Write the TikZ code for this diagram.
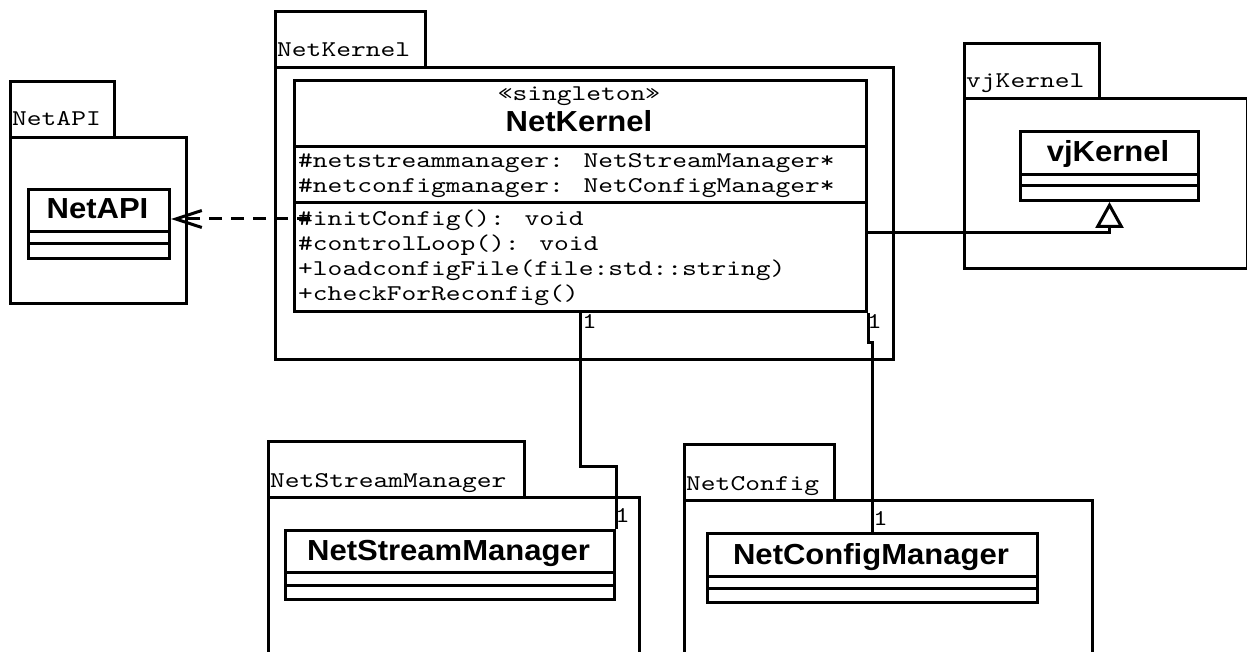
\documentclass[tikz,border=0pt]{standalone}
\usepackage{fontspec}
\newfontfamily\umlsans[FakeStretch=1.07]{Liberation Sans}
\newfontfamily\umlmono[FakeStretch=1.25]{lmmono10-regular.otf}
\usetikzlibrary{arrows.meta}

\tikzset{
  frame/.style={draw, line width=3pt, inner sep=0pt, anchor=north west},
  rule/.style={line width=3pt},
  mono/.style={font=\umlmono\fontsize{22.5}{25}\selectfont, inner sep=0pt, anchor=base west},
  title/.style={font=\umlsans\bfseries\fontsize{29}{30}\selectfont, inner sep=0pt, anchor=base},
  depend/.style={line width=3pt, dash pattern=on 13pt off 9pt,
    -{Straight Barb[length=26pt, width=17pt, line width=3pt]}},
  realize/.style={line width=3pt,
    -{Triangle[open, length=26pt, width=28pt, line width=3pt, fill=white]}},
  assoc/.style={line width=3pt},
}

\begin{document}
\begin{tikzpicture}[x=1pt, y=-1pt]
\useasboundingbox (0,0) rectangle (1247,652);
\clip (0,0) rectangle (1247,652);

% ---- packages (tab + body) ----
\node[frame, minimum width=104pt, minimum height=56pt] (apitab) at (9,80) {};
\node[frame, minimum width=176pt, minimum height=166pt] (apibody) at (9,136) {};
\node[mono] (apilbl) at (12,126) {NetAPI};

\node[frame, minimum width=150pt, minimum height=56pt] (nktab) at (274,10) {};
\node[frame, minimum width=618pt, minimum height=292pt] (nkbody) at (274,66) {};
\node[mono] (nklbl) at (277,57) {NetKernel};

\node[frame, minimum width=135pt, minimum height=55pt] (vjtab) at (963,42) {};
\node[frame, minimum width=283pt, minimum height=170pt] (vjbody) at (963,97) {};
\node[mono] (vjlbl) at (966,88) {vjKernel};

\node[frame, minimum width=256pt, minimum height=56pt] (nsmtab) at (267,440) {};
\node[frame, minimum width=371pt, minimum height=250pt] (nsmbody) at (267,496) {};
\node[mono] (nsmlbl) at (270,487) {NetStreamManager};

\node[frame, minimum width=150pt, minimum height=56pt] (nctab) at (683,443) {};
\node[frame, minimum width=408pt, minimum height=250pt] (ncbody) at (683,499) {};
\node[mono] (nclbl) at (686,490) {NetConfig};

% ---- classes ----
% NetAPI
\node[frame, fill=white, minimum width=141pt, minimum height=69pt] (api) at (27,188) {};
\draw[rule] (api.west |- 0,232) -- (api.east |- 0,232);
\draw[rule] (api.west |- 0,244) -- (api.east |- 0,244);
\node[title] (apiname) at (97.5,219) {NetAPI};

% vjKernel
\node[frame, fill=white, minimum width=178pt, minimum height=69pt] (vjc) at (1019,130) {};
\draw[rule] (vjc.west |- 0,175) -- (vjc.east |- 0,175);
\draw[rule] (vjc.west |- 0,186) -- (vjc.east |- 0,186);
\node[title] (vjname) at (1108,162) {vjKernel};

% NetStreamManager
\node[frame, fill=white, minimum width=329pt, minimum height=69pt] (nsm) at (284,529) {};
\draw[rule] (nsm.west |- 0,572) -- (nsm.east |- 0,572);
\draw[rule] (nsm.west |- 0,585) -- (nsm.east |- 0,585);
\node[title] (nsmname) at (448.5,560) {NetStreamManager};

% NetConfigManager
\node[frame, fill=white, minimum width=330pt, minimum height=69pt] (ncm) at (706,532) {};
\draw[rule] (ncm.west |- 0,576) -- (ncm.east |- 0,576);
\draw[rule] (ncm.west |- 0,588) -- (ncm.east |- 0,588);
\node[title] (ncmname) at (871,564) {NetConfigManager};

% NetKernel
\node[frame, fill=white, minimum width=572pt, minimum height=231pt] (nk) at (293,79) {};
\draw[rule] (nk.west |- 0,147) -- (nk.east |- 0,147);
\draw[rule] (nk.west |- 0,203) -- (nk.east |- 0,203);
\node[mono, anchor=base] (nkst) at (579,101) {«singleton»};
\node[title] (nkname) at (579,132) {NetKernel};
\node[mono] (a1) at (298,168) {\#netstreammanager: NetStreamManager*};
\node[mono] (a2) at (298,193) {\#netconfigmanager: NetConfigManager*};
\node[mono] (o1) at (298,226) {\#initConfig(): void};
\node[mono] (o2) at (298,251) {\#controlLoop(): void};
\node[mono] (o3) at (298,276) {+loadconfigFile(file:std::string)};
\node[mono] (o4) at (298,301) {+checkForReconfig()};

% ---- connectors ----
\coordinate (depstart) at (310,219);
\draw[depend] (depstart) -- (api.east |- depstart);

\draw[realize] (nk.east |- 0,233) -| (vjc.south);

\draw[assoc] (nk.south) -- (nk.south |- 0,466) -| (nsm.north east);
\node[mono] (m1) at (582,328) {1};
\node[mono] (m2) at (615,522) {1};

\draw[assoc] (nk.south east) -- (nk.south east |- 0,342) -| (ncm.north);
\node[mono] (m3) at (867,328) {1};
\node[mono] (m4) at (873,525) {1};
\end{tikzpicture}
\end{document}
